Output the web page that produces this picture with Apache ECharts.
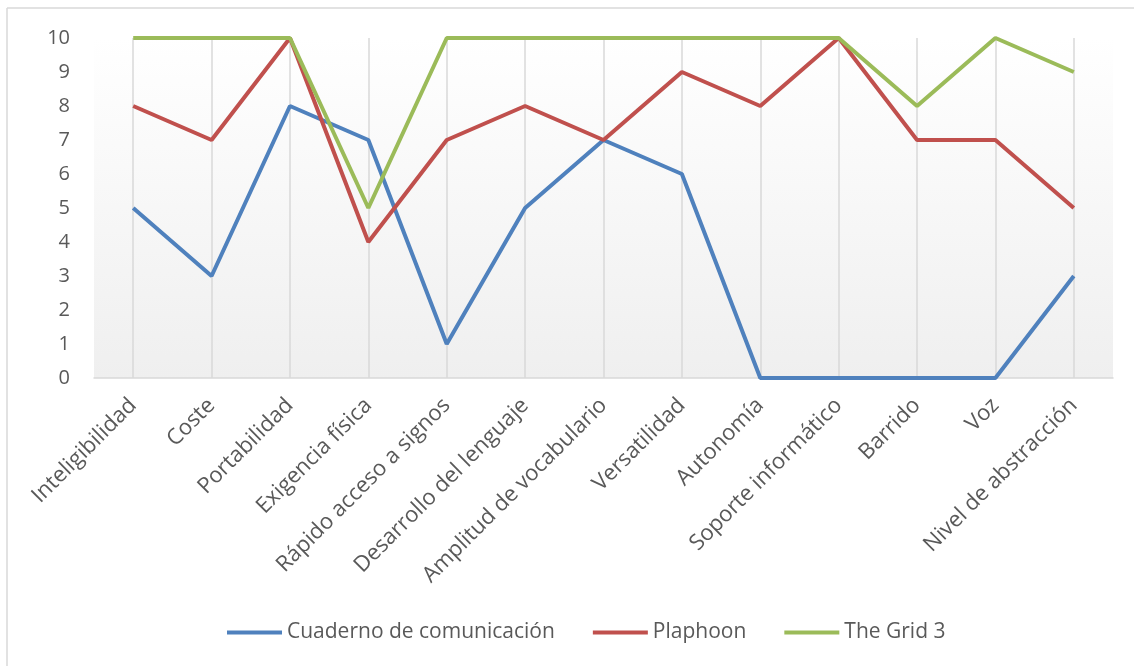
<!DOCTYPE html>
<html>
<head>
	<meta charset="utf-8">
	<title>Comparativa SAAC</title>
	<script src="https://cdn.jsdelivr.net/npm/echarts@6/dist/echarts.min.js"></script>
	<style>
body{ margin:0; background:#fff; }
#main{ width:1134px; height:666px; }
	</style>
</head>
<body>
<div id="main"></div>
<script>
var categorias = ['Inteligibilidad', 'Coste', 'Portabilidad', 'Exigencia física', 'Rápido acceso a signos',
	'Desarrollo del lenguaje', 'Amplitud de vocabulario', 'Versatilidad', 'Autonomía',
	'Soporte informático', 'Barrido', 'Voz', 'Nivel de abstracción'];
var cuaderno = [5, 3, 8, 7, 1, 5, 7, 6, 0, 0, 0, 0, 3];
var plaphoon = [8, 7, 10, 4, 7, 8, 7, 9, 8, 10, 7, 7, 5];
var grid3 = [10, 10, 10, 5, 10, 10, 10, 10, 10, 10, 8, 10, 9];
var nombres = ['Cuaderno de comunicación', 'Plaphoon', 'The Grid 3'];
var colores = ['#4f81bd', '#c0504d', '#9bbb59'];

var myChart = echarts.init(document.getElementById('main'));
var fuente = '"Open Sans", sans-serif';

function serie(i, datos) {
	return {
		name: nombres[i],
		type: 'line',
		data: datos,
		symbol: 'none',
		lineStyle: { color: colores[i], width: 4 },
		itemStyle: { color: colores[i] }
	};
}

var option = {
	animation: false,
	graphic: [
		{ type: 'line', shape: { x1: 7, y1: 8, x2: 1134, y2: 8 }, style: { stroke: '#d9d9d9', lineWidth: 1.5 } },
		{ type: 'line', shape: { x1: 7, y1: 8, x2: 7, y2: 666 }, style: { stroke: '#d9d9d9', lineWidth: 1.5 } }
	],
	grid: {
		left: 94, right: 21, top: 38, bottom: 288,
		show: true, borderWidth: 0,
		backgroundColor: {
			type: 'linear', x: 0, y: 0, x2: 0, y2: 1,
			colorStops: [{ offset: 0, color: '#ffffff' }, { offset: 1, color: '#efefef' }]
		}
	},
	legend: {
		bottom: 18,
		left: 222,
		itemWidth: 55,
		itemHeight: 4,
		itemGap: 38,
		icon: 'rect',
		textStyle: { fontFamily: fuente, fontSize: 21, color: '#595959' },
		data: nombres
	},
	xAxis: {
		type: 'category',
		data: categorias,
		axisLine: { lineStyle: { color: '#d9d9d9', width: 1.5 } },
		axisTick: { show: false },
		splitLine: { show: true, alignWithLabel: true, lineStyle: { color: '#d9d9d9', width: 1.5 } },
		axisLabel: {
			rotate: 45, margin: 24, interval: 0,
			fontFamily: fuente, fontSize: 22, color: '#595959'
		}
	},
	yAxis: {
		type: 'value',
		min: 0, max: 10, interval: 1,
		axisLine: { show: false },
		axisTick: { show: false },
		splitLine: { show: false },
		axisLabel: { margin: 24, fontFamily: fuente, fontSize: 20, color: '#595959' }
	},
	series: [serie(0, cuaderno), serie(1, plaphoon), serie(2, grid3)]
};
myChart.setOption(option);
</script>
</body>
</html>
